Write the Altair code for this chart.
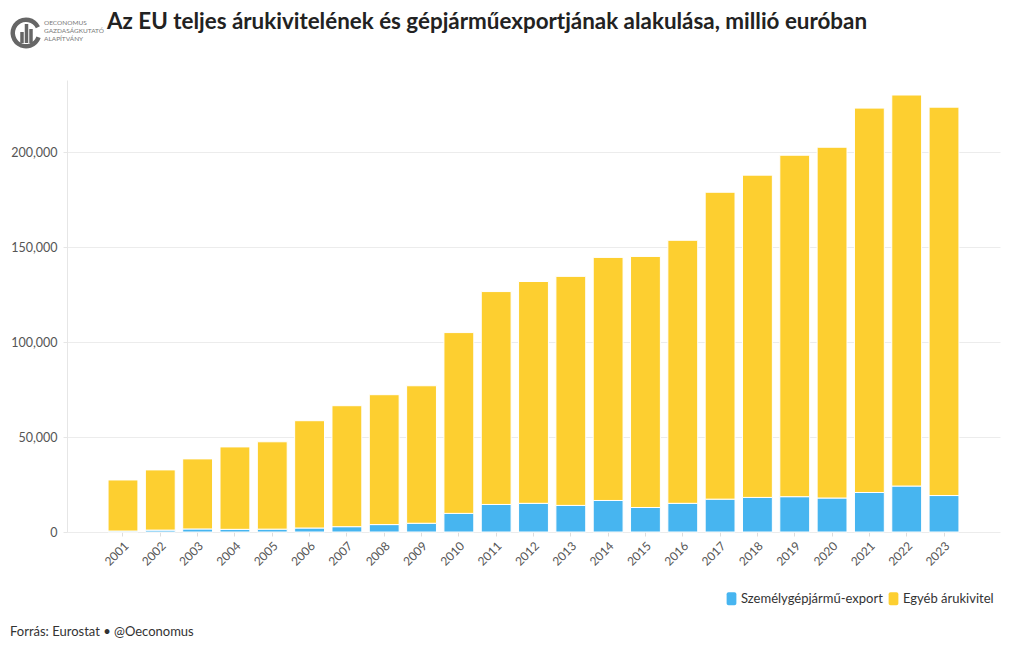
import altair as alt
import pandas as pd

years = [str(y) for y in range(2001, 2024)]
car_export = [500, 1000, 1600, 1400, 1500, 2100, 2800, 3900, 4600, 9800, 14500, 15100,
              14000, 16600, 12900, 15100, 17300, 18200, 18600, 17900, 20800, 24200, 19200]
other_export = [26900, 31700, 36900, 43400, 46000, 56500, 63700, 68400, 72400, 95200, 112100,
                116800, 120600, 128000, 132200, 138500, 161600, 169700, 179800, 184700,
                202400, 205900, 204500]
series = ["Személygépjármű-export", "Egyéb árukivitel"]
colors = ["#47B5F0", "#FDCF30"]
y_ticks = [0, 50000, 100000, 150000, 200000]

title_text = "Az EU teljes árukivitelének és gépjárműexportjának alakulása, millió euróban"
source_text = "Forrás: Eurostat • @Oeconomus"
logo_lines = ["OECONOMUS", "GAZDASÁGKUTATÓ", "ALAPÍTVÁNY"]

rows = []
for i, yr in enumerate(years):
    rows.append({"year": yr, "series": series[0], "value": car_export[i], "ord": 0})
    rows.append({"year": yr, "series": series[1], "value": other_export[i], "ord": 1})
df = pd.DataFrame(rows)

FONT = "Lato"
W, H = 933, 452

sym = ("M-0.45,-1 h0.9 a0.3,0.3 0 0 1 0.3,0.3 v1.4 a0.3,0.3 0 0 1 -0.3,0.3 "
       "h-0.9 a0.3,0.3 0 0 1 -0.3,-0.3 v-1.4 a0.3,0.3 0 0 1 0.3,-0.3 z")

bars = alt.Chart(df).mark_bar(stroke="white", strokeWidth=1,
                              width=alt.RelativeBandSize(0.8)).encode(
    x=alt.X("year:N", sort=years, title=None,
            scale=alt.Scale(paddingInner=0, paddingOuter=1),
            axis=alt.Axis(labelAngle=-45, labelFontSize=12, labelColor="#555",
                          labelFont=FONT, domain=False, ticks=True, tickSize=4,
                          tickColor="#ddd", labelPadding=4)),
    y=alt.Y("value:Q", stack="zero", title=None,
            scale=alt.Scale(domain=[0, 238000], nice=False),
            axis=alt.Axis(values=y_ticks, format=",.0f", labelFontSize=12.5,
                          labelColor="#555", labelFont=FONT, grid=True,
                          gridColor="#ececec", domain=True, domainColor="#e6e6e6",
                          tickColor="#e6e6e6", tickSize=4, labelPadding=6)),
    color=alt.Color("series:N", sort=series,
                    scale=alt.Scale(domain=series, range=colors),
                    legend=alt.Legend(title=None, orient="none", legendX=658, legendY=512,
                                      direction="horizontal", labelFont=FONT,
                                      labelFontSize=13, labelColor="#333",
                                      symbolType=sym, symbolSize=169,
                                      symbolStrokeWidth=0, symbolOpacity=1,
                                      columnPadding=4, labelOffset=3)),
    order=alt.Order("ord:Q", sort="ascending"),
)

one = pd.DataFrame({"t": [title_text]})
title = alt.Chart(one).mark_text(align="left", baseline="middle", font=FONT, fontSize=22.4,
                                 fontWeight="bold", color="#222").encode(
    x=alt.value(40), y=alt.value(-58), text="t:N")

src = alt.Chart(pd.DataFrame({"t": [source_text]})).mark_text(
    align="left", baseline="middle", font=FONT, fontSize=13, color="#333").encode(
    x=alt.value(-57), y=alt.value(552), text="t:N")

logo_df = pd.DataFrame({"t": logo_lines, "yy": [-57, -49, -41]})
logo_txt = alt.Chart(logo_df).mark_text(align="left", baseline="middle", font=FONT,
                                        fontSize=6.5, color="#777").encode(
    x=alt.value(-23), y=alt.Y("yy:Q", scale=None), text="t:N")

logo_arc = alt.Chart(pd.DataFrame({"a": [1]})).mark_arc(
    radius=15.5, radius2=11, theta=1.9, theta2=7.4, color="#666").encode(
    x=alt.value(-41), y=alt.value(-47))

logo_bars_df = pd.DataFrame({"bx": [-45, -40.5, -36], "top": [-48, -56, -51]})
logo_bars = alt.Chart(logo_bars_df).mark_rule(strokeWidth=3.5, color="#666").encode(
    x=alt.X("bx:Q", scale=None), y=alt.Y("top:Q", scale=None), y2=alt.value(-37))

chart = alt.layer(bars, title, src, logo_txt, logo_arc, logo_bars).properties(
    width=W, height=H,
    autosize=alt.AutoSizeParams(type="none"),
    padding={"left": 59, "top": 72, "right": 12, "bottom": 110},
).configure(font=FONT).configure_view(stroke=None)

chart.save("out.html", embed_options={"renderer": "svg", "actions": False})
